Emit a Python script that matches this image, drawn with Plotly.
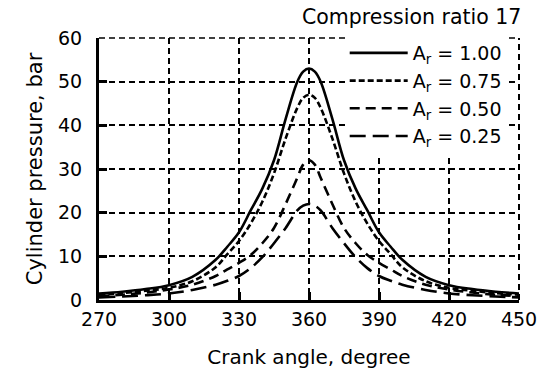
import plotly.graph_objects as go

# Crank angle (degrees)
angles = [270, 280, 290, 300, 310, 320, 325, 330, 335, 340, 345, 350, 355, 357.5, 360,
          362.5, 365, 370, 375, 380, 385, 390, 395, 400, 410, 420, 430, 440, 450]

# Cylinder pressure (bar)
p_100 = [1.5, 1.9, 2.5, 3.4, 5.3, 9.2, 12.2, 15.5, 20.5, 25.5, 32.0, 41.5, 50.0, 52.3, 53.0,
         52.3, 50.0, 41.5, 32.0, 25.5, 20.5, 15.5, 12.2, 9.2, 5.3, 3.4, 2.5, 1.9, 1.5]
p_075 = [1.2, 1.6, 2.1, 2.8, 4.3, 7.5, 10.5, 13.5, 17.5, 22.5, 29.0, 37.0, 44.0, 46.3, 47.0,
         46.3, 44.0, 37.0, 29.0, 22.5, 17.5, 13.5, 10.5, 7.5, 4.3, 2.8, 2.1, 1.6, 1.2]
p_050 = [0.9, 1.2, 1.7, 2.4, 3.5, 5.5, 7.0, 8.5, 10.3, 13.0, 16.5, 22.0, 28.0, 31.0, 32.0,
         31.0, 28.0, 22.0, 16.5, 13.0, 10.3, 8.5, 7.0, 5.5, 3.5, 2.4, 1.7, 1.2, 0.9]
p_025 = [0.6, 0.8, 1.1, 1.5, 2.3, 3.5, 4.4, 5.5, 7.3, 9.8, 13.0, 16.5, 20.5, 21.6, 22.0,
         21.6, 20.5, 16.5, 13.0, 9.8, 7.3, 5.5, 4.4, 3.5, 2.3, 1.5, 1.1, 0.8, 0.6]

series_names = ["A<sub>r</sub> = 1.00", "A<sub>r</sub> = 0.75",
                "A<sub>r</sub> = 0.50", "A<sub>r</sub> = 0.25"]
series_values = [p_100, p_075, p_050, p_025]
dashes = ["solid", "6px,3px", "10px,6px", "16px,7px"]
widths = [2.6, 2.6, 2.6, 2.6]

x_ticks = [270, 300, 330, 360, 390, 420, 450]
y_ticks = [0, 10, 20, 30, 40, 50, 60]

FONT = "DejaVu Sans"
GRID_DASH = "6px,4px"

fig = go.Figure()
for name, vals, d, w in zip(series_names, series_values, dashes, widths):
    fig.add_trace(go.Scatter(
        x=angles, y=vals, mode="lines", name=name,
        line=dict(color="black", width=w, dash=d, shape="spline", smoothing=1.0),
    ))

# dashed grid lines along the top and right edges of the plot area
fig.add_shape(type="line", xref="paper", yref="paper", x0=0, x1=1, y0=1, y1=1,
              line=dict(color="black", width=1.5, dash=GRID_DASH), layer="below")
fig.add_shape(type="line", xref="paper", yref="paper", x0=1, x1=1, y0=0, y1=1,
              line=dict(color="black", width=2, dash=GRID_DASH), layer="below")

fig.update_layout(
    width=541, height=371,
    margin=dict(l=99, r=22, t=38, b=71, autoexpand=False),
    paper_bgcolor="white", plot_bgcolor="white",
    font=dict(family=FONT, color="black", size=19),
    showlegend=True,
    legend=dict(
        x=0.585, y=1.015, xanchor="left", yanchor="top",
        bgcolor="white", borderwidth=0,
        font=dict(family=FONT, size=19, color="black"),
        itemwidth=58, tracegroupgap=0,
    ),
    annotations=[dict(
        text="Compression ratio 17", xref="paper", yref="paper",
        x=1.01, y=1.08, xanchor="right", yanchor="middle",
        showarrow=False, font=dict(family=FONT, size=20.5, color="black"),
    )],
)

fig.update_xaxes(
    range=[270, 450], tickvals=x_ticks, ticktext=[str(v) for v in x_ticks],
    showline=True, linecolor="black", linewidth=3, mirror=False,
    ticks="inside", ticklen=8, tickwidth=2.5, tickcolor="black",
    showgrid=True, gridcolor="black", gridwidth=1.5, griddash=GRID_DASH,
    zeroline=False, automargin=False,
    title=dict(text="Crank angle, degree", font=dict(family=FONT, size=20), standoff=22),
    tickfont=dict(family=FONT, size=19),
)
fig.update_yaxes(
    range=[0, 60], tickvals=y_ticks, ticktext=[str(v) for v in y_ticks],
    showline=True, linecolor="black", linewidth=3, mirror=False,
    ticks="inside", ticklen=8, tickwidth=2.5, tickcolor="black",
    showgrid=True, gridcolor="black", gridwidth=1.5, griddash=GRID_DASH,
    zeroline=False, automargin=False,
    title=dict(text="Cylinder pressure, bar", font=dict(family=FONT, size=21), standoff=10),
    tickfont=dict(family=FONT, size=19),
    ticklabelstandoff=10,
)

fig.write_html("out.html")
